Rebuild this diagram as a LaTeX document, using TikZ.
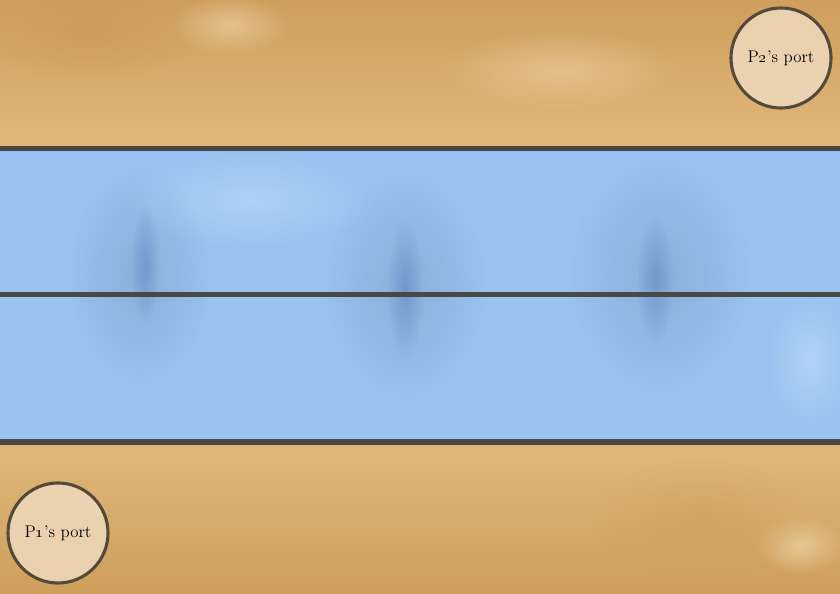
\documentclass[tikz,border=0pt]{standalone}
\usetikzlibrary{fadings}
\definecolor{paperTan}{RGB}{224,184,122}
\definecolor{paperDark}{RGB}{206,158,92}
\definecolor{paperLight}{RGB}{236,208,160}
\definecolor{seaBlue}{RGB}{152,194,240}
\definecolor{seaLight}{RGB}{180,212,246}
\definecolor{seaShade}{RGB}{95,130,190}
\definecolor{laneLine}{RGB}{72,72,68}
\definecolor{portEdge}{RGB}{85,74,58}
\definecolor{portFill}{RGB}{238,218,190}
\tikzfading[name=soft blot, inner color=transparent!0, outer color=transparent!100]

\begin{document}
\begin{tikzpicture}[x=0.025cm, y=-0.025cm,
    port/.style={circle, draw=portEdge, line width=2.2pt, fill=portFill, fill opacity=0.85,
                 text opacity=1, minimum size=2.5cm, inner sep=0pt,
                 font=\fontsize{12}{14}\selectfont},
    lane/.style={draw=laneLine, line width=3.6pt},
    stain/.style={path fading=soft blot}]

    % Paper background
    \useasboundingbox (0,0) rectangle (840,593);
    \shade[top color=paperDark, bottom color=paperTan] (0,0) rectangle (840,148);
    \shade[top color=paperTan, bottom color=paperDark] (0,443) rectangle (840,593);
    \fill[stain, paperDark!80!brown, opacity=0.6] (90,35) ellipse (110 and 45);
    \fill[stain, paperLight, opacity=0.7] (230,25) ellipse (60 and 30);
    \fill[stain, paperLight, opacity=0.6] (560,70) ellipse (120 and 40);
    \fill[stain, paperLight, opacity=0.8] (800,545) ellipse (45 and 30);
    \fill[stain, paperDark, opacity=0.5] (700,520) ellipse (110 and 60);

    % Water
    \fill[seaBlue] (0,148) rectangle (840,443);
    \fill[stain, seaLight, opacity=0.8] (250,200) ellipse (130 and 50);
    \fill[stain, seaLight, opacity=0.9] (810,360) ellipse (45 and 70);
    \fill[stain, seaShade!60!gray, opacity=0.3] (140,275) ellipse (70 and 110);
    \fill[stain, seaShade!60!gray, opacity=0.3] (405,285) ellipse (80 and 115);
    \fill[stain, seaShade!60!gray, opacity=0.3] (660,275) ellipse (90 and 120);
    \fill[stain, seaShade, opacity=0.5] (145,265) ellipse (14 and 60);
    \fill[stain, seaShade, opacity=0.5] (405,290) ellipse (18 and 70);
    \fill[stain, seaShade, opacity=0.5] (655,280) ellipse (18 and 65);

    % Lane borders
    \coordinate (topW) at (0,148.5);
    \coordinate (topE) at (840,148.5);
    \coordinate (midW) at (0,294.5);
    \coordinate (midE) at (840,294.5);
    \coordinate (botW) at (0,442);
    \coordinate (botE) at (840,442);
    \draw[lane] (topW) -- (topE);
    \draw[lane] (midW) -- (midE);
    \draw[lane] (botW) -- (botE);

    % Ports
    \node[port] (p2port) at (781,58) {P\oldstylenums{2}'s port};
    \node[port] (p1port) at (58,533) {P\oldstylenums{1}'s port};

\end{tikzpicture}
\end{document}
